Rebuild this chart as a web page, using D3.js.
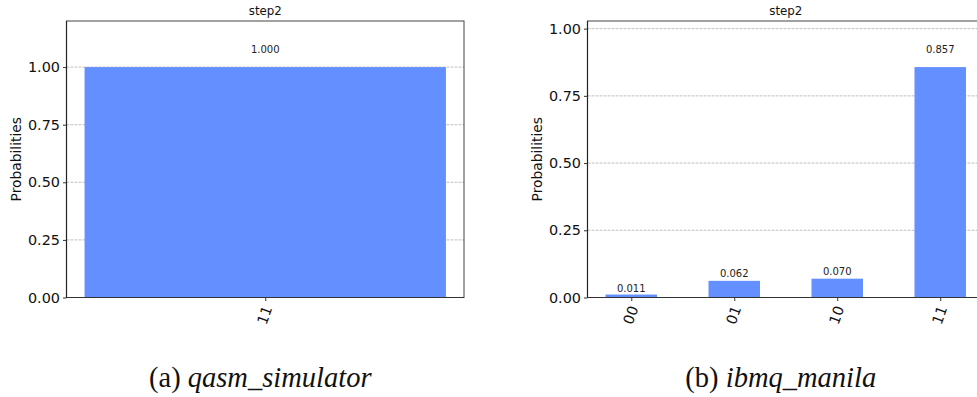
<!DOCTYPE html>
<html><head><meta charset="utf-8">
<script src="https://cdn.jsdelivr.net/npm/d3@7"></script>
<style>body{margin:0;background:#fff}svg{display:block}</style>
</head><body>
<svg id="c" width="977" height="397"></svg>
<script>
const catsA = ["11"];
const valsA = [1.000];
const catsB = ["00", "01", "10", "11"];
const valsB = [0.011, 0.062, 0.070, 0.857];
const yTicks = [0, 0.25, 0.5, 0.75, 1.0];
const title = "step2";
const yLabel = "Probabilities";
const captionA = ["(a) ", "qasm_simulator"];
const captionB = ["(b) ", "ibmq_manila"];

const svg = d3.select("#c");
const FONT = "DejaVu Sans, sans-serif";
const BAR = "#648fff";

function panel(x0, x1, y0, y1, cats, vals, cap) {
  const n = cats.length;
  const m = 0.05 * (n - 0.5);
  const x = d3.scaleLinear().domain([-0.25 - m, n - 0.75 + m]).range([x0, x1]);
  const y = d3.scaleLinear().domain([0, d3.max(vals) * 1.2]).range([y1, y0]);
  const g = svg.append("g");
  const tv = yTicks.filter(t => t <= y.domain()[1]);
  // grid
  g.selectAll(".grid").data(tv).join("line")
    .attr("x1", x0).attr("x2", x1).attr("y1", d => y(d)).attr("y2", d => y(d))
    .attr("stroke", "#b0b0b0").attr("stroke-width", 0.8).attr("stroke-dasharray", "2.8,1.2");
  // bars
  g.selectAll(".bar").data(vals).join("rect")
    .attr("x", (d, i) => x(i - 0.25)).attr("width", (d, i) => x(i + 0.25) - x(i - 0.25))
    .attr("y", d => y(d)).attr("height", d => y(0) - y(d)).attr("fill", BAR);
  // bar labels (at 1.05 * value, bottom aligned)
  g.selectAll(".bl").data(vals).join("text")
    .attr("x", (d, i) => x(i)).attr("y", d => y(d * 1.05) - 2.5)
    .attr("text-anchor", "middle").attr("font-family", FONT).attr("font-size", 10).attr("fill", "#222")
    .text(d => d.toFixed(3));
  // spines
  g.append("rect").attr("x", x0).attr("y", y0).attr("width", x1 - x0).attr("height", y1 - y0)
    .attr("fill", "none").attr("stroke", "#444").attr("stroke-width", 1);
  g.append("line").attr("x1", x0).attr("x2", x0).attr("y1", y0).attr("y2", y1).attr("stroke", "#222").attr("stroke-width", 1.2);
  g.append("line").attr("x1", x0).attr("x2", x1).attr("y1", y1).attr("y2", y1).attr("stroke", "#333").attr("stroke-width", 1.2);
  // y axis
  const ya = d3.axisLeft(y).tickValues(tv).tickFormat(d3.format(".2f")).tickSizeOuter(0).tickSize(3.5).tickPadding(3);
  const yg = g.append("g").attr("transform", `translate(${x0},0)`).call(ya);
  yg.select(".domain").remove();
  yg.selectAll("line").attr("stroke", "#333");
  yg.selectAll("text").attr("font-family", FONT).attr("font-size", 14.4).attr("fill", "#111");
  // x axis
  const xa = d3.axisBottom(x).tickValues(d3.range(n)).tickFormat(i => cats[i]).tickSizeOuter(0).tickSize(3.5);
  const xg = g.append("g").attr("transform", `translate(0,${y1})`).call(xa);
  xg.select(".domain").remove();
  xg.selectAll("line").attr("stroke", "#333");
  xg.selectAll(".tick text").attr("font-family", FONT).attr("font-size", 14.4).attr("fill", "#111")
    .attr("text-anchor", "end").attr("dy", "0.35em").attr("y", 0).attr("x", 0)
    .attr("transform", "translate(2,9) rotate(-70)");
  // title
  g.append("text").attr("x", (x0 + x1) / 2).attr("y", y0 - 6).attr("text-anchor", "middle")
    .attr("font-family", FONT).attr("font-size", 11.8).attr("fill", "#111").text(title);
  // ylabel
  g.append("text").attr("transform", `translate(${x0 - 50},${(y0 + y1) / 2}) rotate(-90)`)
    .attr("text-anchor", "middle").attr("dy", "0.35em").attr("font-family", FONT).attr("font-size", 13.8).attr("fill", "#111").text(yLabel);
  // caption
  const t = svg.append("text").attr("x", (x0 + x1) / 2 - 5).attr("y", 387).attr("text-anchor", "middle")
    .attr("font-family", "Palatino, 'Liberation Serif', 'DejaVu Serif', serif").attr("font-size", 28.5).attr("fill", "#111");
  t.append("tspan").text(cap[0]);
  t.append("tspan").attr("font-style", "italic").text(cap[1]);
}

panel(66.5, 464, 21, 297.5, catsA, valsA, captionA);
panel(587.5, 984, 21, 297.5, catsB, valsB, captionB);
</script>
</body></html>
